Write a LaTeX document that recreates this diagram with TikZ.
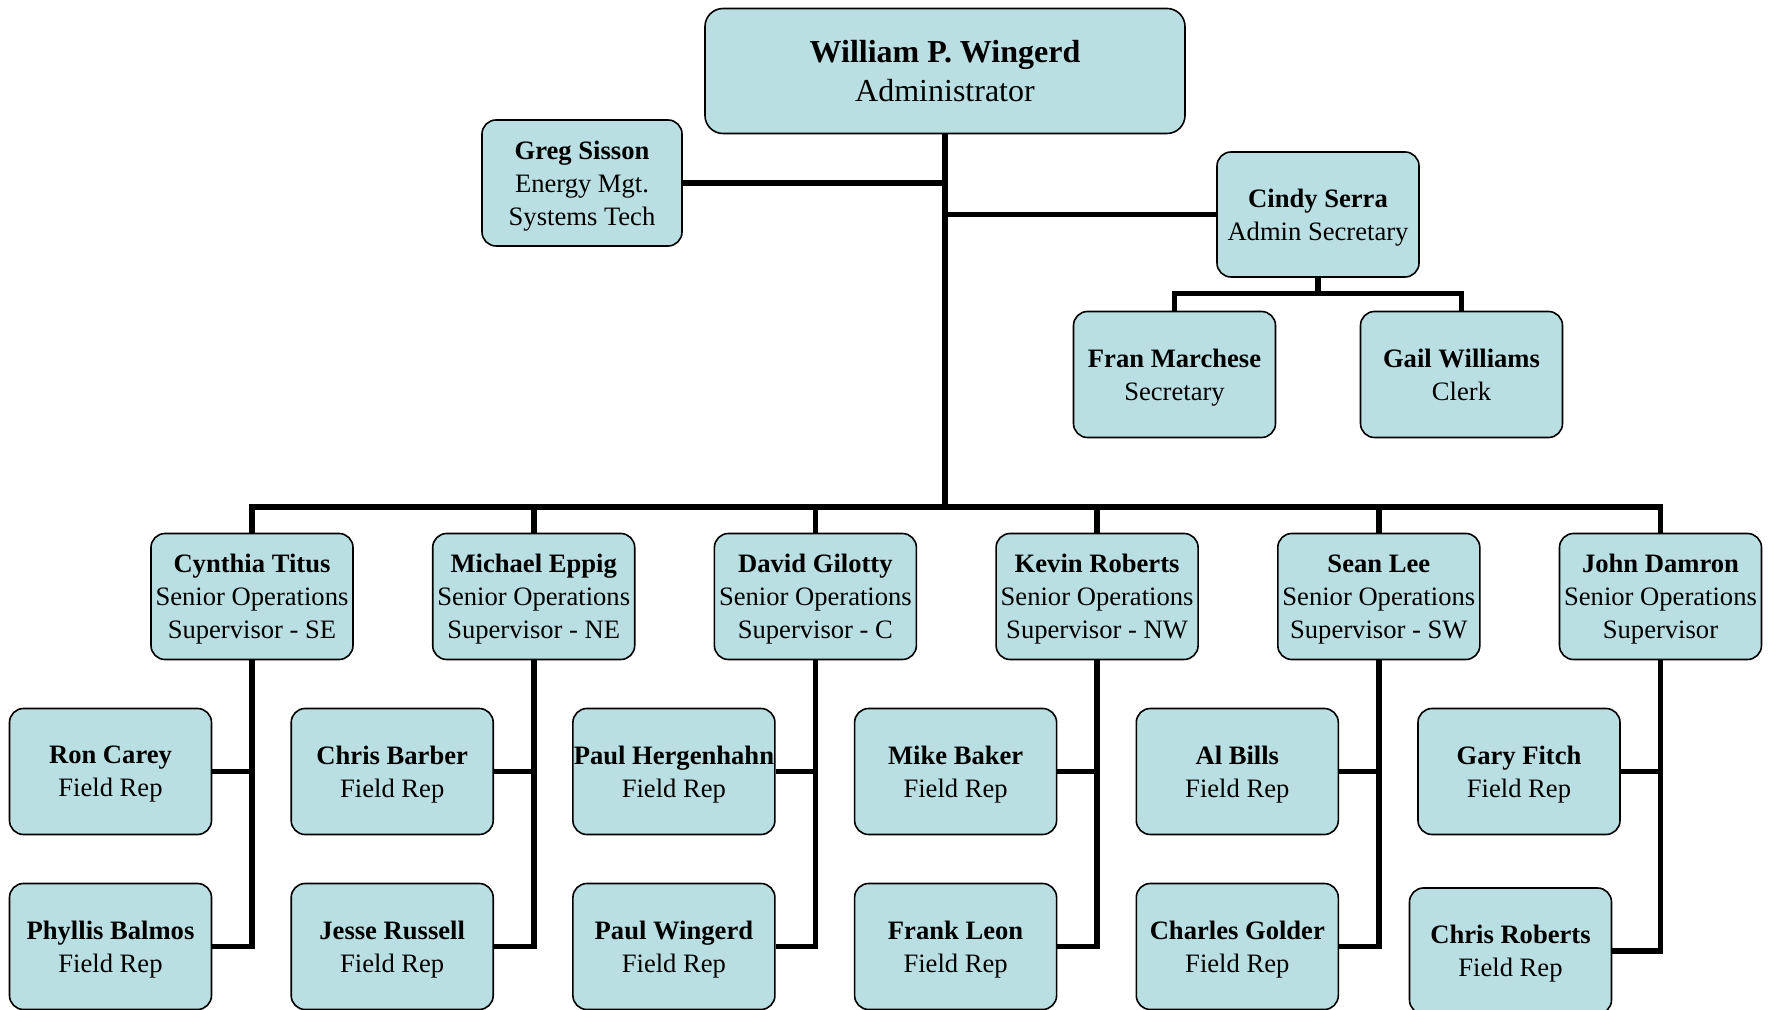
\documentclass[tikz,border=0pt]{standalone}
\usepackage{fontspec}
\setmainfont{Liberation Serif}
\usepackage{tikz}
\usetikzlibrary{calc, positioning}
\definecolor{boxfill}{RGB}{186,223,227}

\tikzset{
    person/.style={draw, line width=0.8pt, fill=boxfill, rounded corners=7pt,
        minimum width=101pt, minimum height=63pt, inner sep=0pt, align=center,
        text depth=0pt, font=\fontsize{13.3}{16.4}\selectfont},
    link/.style={line width=2.8pt}
}

\begin{document}
\begin{tikzpicture}[x=0.5pt, y=-0.5pt]
            \useasboundingbox (0,0) rectangle (1774,1010);

            \node[person, minimum width=240pt, minimum height=62.5pt, rounded corners=9pt, font=\fontsize{16}{19.2}\selectfont] (top) at (945,71) {\textbf{William P. Wingerd}\\Administrator};
            \node[person, minimum width=100pt] (greg) at (582,183) {\textbf{Greg Sisson}\\Energy Mgt.\\Systems Tech};
            \node[person, minimum height=62.5pt] (cindy) at (1318,214.5) {\textbf{Cindy Serra}\\Admin Secretary};
            \node[person] (fran) at (1174.5,374.5) {\textbf{Fran Marchese}\\Secretary};
            \node[person] (gail) at (1461.5,374.5) {\textbf{Gail Williams}\\Clerk};

            \coordinate (bus) at (945,507);

            \foreach \i/\nm/\rl in {1/Cynthia Titus/Supervisor - SE, 2/Michael Eppig/Supervisor - NE, 3/David Gilotty/Supervisor - C, 4/Kevin Roberts/Supervisor - NW, 5/Sean Lee/Supervisor - SW, 6/John Damron/Supervisor}
            {
                \pgfmathsetmacro{\sx}{252+281.7*(\i-1)}
                \node[person] (sup-\i) at (\sx,596.5) {\textbf{\nm}\\Senior Operations\\\rl};
            }

            \foreach \i/\a/\b/\dx/\dy in {1/Ron Carey/Phyllis Balmos/0/0, 2/Chris Barber/Jesse Russell/0/0, 3/Paul Hergenhahn/Paul Wingerd/0/0, 4/Mike Baker/Frank Leon/0/0, 5/Al Bills/Charles Golder/0/0, 6/Gary Fitch/Chris Roberts/-8.5/4.5}
            {
                \pgfmathsetmacro{\rx}{110.5+281.7*(\i-1)}
                \node[person] (rep-\i-1) at (\rx,771.5) {\textbf{\a}\\Field Rep};
                \node[person] (rep-\i-2) at (\rx+\dx,946.5+\dy) {\textbf{\b}\\Field Rep};
                \draw[link] (sup-\i.south) |- (rep-\i-2.east);
                \draw[link] (rep-\i-1.east) -- (rep-\i-1.east -| sup-\i.south);
            }

            \draw[link] (top.south) -- (bus);
            \draw[link] (greg.east) -- (greg.east -| bus);
            \draw[link] (cindy.west) -- (cindy.west -| bus);
            \draw[link] (sup-1.north) |- (bus) -| (sup-6.north);
            \foreach \i in {2,...,5}
            \draw[link] (sup-\i.north) -- (sup-\i.north |- bus);

            \draw[link] (cindy.south) -- ++(0,17);
            \draw[link] (fran.north) -- ++(0,-17) -| (gail.north);
        \end{tikzpicture}
\end{document}
